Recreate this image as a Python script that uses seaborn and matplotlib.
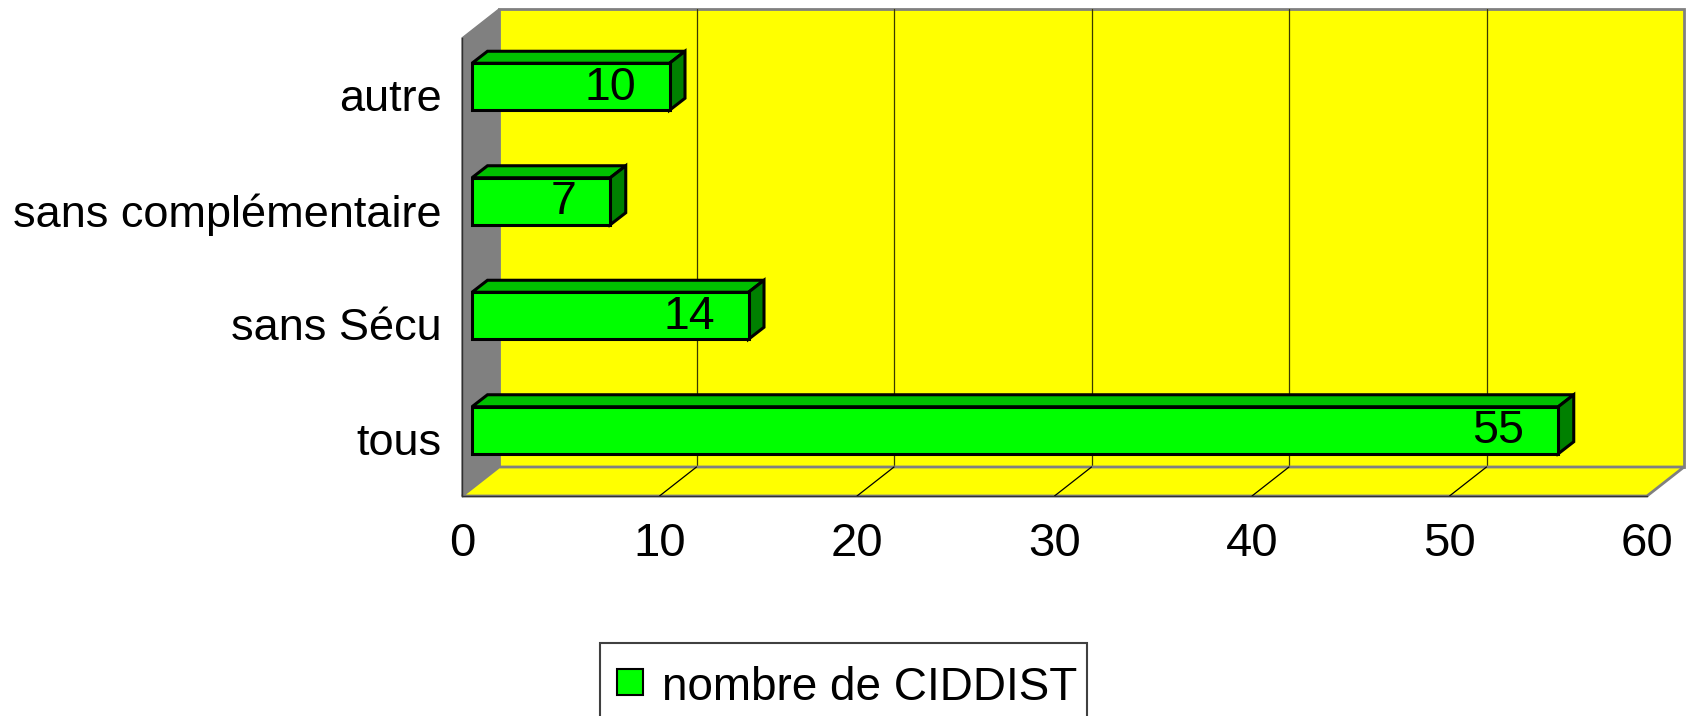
import matplotlib
matplotlib.use("Agg")
import matplotlib.pyplot as plt
import seaborn as sns
from matplotlib.patches import Polygon, Rectangle

# data (top to bottom as shown)
categories = ["autre", "sans complémentaire", "sans Sécu", "tous"]
values = [10, 7, 14, 55]
x_ticks = [0, 10, 20, 30, 40, 50, 60]
legend_label = "nombre de CIDDIST"

sns.set_style("white")
plt.rcParams["font.family"] = ["Liberation Sans", "DejaVu Sans"]
plt.rcParams["text.color"] = "black"
plt.rcParams["xtick.labelcolor"] = "black"
plt.rcParams["ytick.labelcolor"] = "black"

W, H = 1691, 716
fig = plt.figure(figsize=(W / 100, H / 100), dpi=100)
fig.patch.set_facecolor("white")

# front plane of the plot, in pixels
left_px, right_px, top_px, bottom_px = 462, 1647, 38, 496
ax = fig.add_axes([left_px / W, 1 - bottom_px / H,
                   (right_px - left_px) / W, (bottom_px - top_px) / H])

ux = (right_px - left_px) / 60.0          # px per value unit
uy = (bottom_px - top_px) / 4.0           # px per category

# 3d depth of walls and bars, converted to data units
dx, dy = 37 / ux, 29 / uy
bx, by = 10 / ux, 8.5 / uy
ddx, ddy = 15.5 / ux, 12 / uy
bar_h = 47 / uy

x0, x1 = 0, 60
y0, y1 = -0.5, 3.5

# back wall
ax.add_patch(Polygon([(x0 + dx, y0 - dy), (x1 + dx, y0 - dy), (x1 + dx, y1 - dy), (x0 + dx, y1 - dy)],
                     closed=True, facecolor="#ffff00", edgecolor="#808080", lw=2,
                     clip_on=False, zorder=1))
for v in x_ticks[1:-1]:
    ax.plot([v + dx, v + dx], [y0 - dy, y1 - dy], color="#3a3a00", lw=0.9, clip_on=False, zorder=2)
# left wall
ax.add_patch(Polygon([(x0, y0), (x0 + dx, y0 - dy), (x0 + dx, y1 - dy), (x0, y1)],
                     closed=True, facecolor="#808080", edgecolor="#808080", lw=1,
                     clip_on=False, zorder=2))
# floor
ax.add_patch(Polygon([(x0, y1), (x1, y1), (x1 + dx, y1 - dy), (x0 + dx, y1 - dy)],
                     closed=True, facecolor="#ffff00", edgecolor="#808080", lw=2,
                     clip_on=False, zorder=2))
for v in x_ticks[1:-1]:
    ax.plot([v, v + dx], [y1, y1 - dy], color="black", lw=0.9, clip_on=False, zorder=3)

# bars (front faces)
sns.barplot(x=values, y=categories, orient="h", color="#00ff00", saturation=1,
            edgecolor="black", linewidth=2.2, width=bar_h, ax=ax)
for p in ax.containers[0]:
    p.set_x(p.get_x() + bx)
    p.set_y(p.get_y() - by)
    p.set_zorder(5)

for i, v in enumerate(values):
    yt = i - bar_h / 2 - by
    yb = i + bar_h / 2 - by
    xs, xe = bx, v + bx
    ax.add_patch(Polygon([(xs, yt), (xs + ddx, yt - ddy), (xe + ddx, yt - ddy), (xe, yt)],
                         closed=True, facecolor="#00c000", edgecolor="black", lw=2.2, zorder=4))
    ax.add_patch(Polygon([(xe, yt), (xe + ddx, yt - ddy), (xe + ddx, yb - ddy), (xe, yb)],
                         closed=True, facecolor="#008000", edgecolor="black", lw=2.2, zorder=4))
    ax.text(v - 1.2, i - by + 13 / uy, str(v), ha="right", va="baseline",
            fontsize=33.5, color="black", zorder=6)

ax.set_xlim(x0, x1)
ax.set_ylim(y1, y0)
ax.set_facecolor("none")
ax.set_xlabel("")
ax.set_ylabel("")

ax.set_xticks(x_ticks)
ax.set_xticklabels([str(t) for t in x_ticks], fontsize=34)
ax.set_yticks([-0.5, 0.5, 1.5, 2.5, 3.5])
ax.set_yticklabels([])
ax.set_yticks([0, 1, 2, 3], minor=True)
ax.set_yticklabels(categories, minor=True, fontsize=32.5)
ax.tick_params(axis="x", which="major", direction="out", length=6.5, width=1, pad=12,
               colors="black", labelcolor="black")
ax.tick_params(axis="y", which="major", direction="out", length=7, width=1, colors="black")
ax.tick_params(axis="y", which="minor", length=0, pad=14.5, labelcolor="black")

for s in ["top", "right"]:
    ax.spines[s].set_visible(False)
for s in ["left", "bottom"]:
    ax.spines[s].set_color("#303030")
    ax.spines[s].set_linewidth(1)
    ax.spines[s].set_zorder(3)

# legend box, partly cut off at the bottom
fig.patches.append(Rectangle((600 / W, 1 - 725 / H), 487 / W, 82 / H, transform=fig.transFigure,
                             facecolor="white", edgecolor="#404040", lw=1.5, zorder=1))
fig.patches.append(Rectangle((617 / W, 1 - 695 / H), 26 / W, 26 / H, transform=fig.transFigure,
                             facecolor="#00ff00", edgecolor="black", lw=1.5, zorder=2))
fig.text(662 / W, 1 - 700 / H, legend_label, ha="left", va="baseline", fontsize=33, color="black")

fig.savefig("out.png", dpi=100)
